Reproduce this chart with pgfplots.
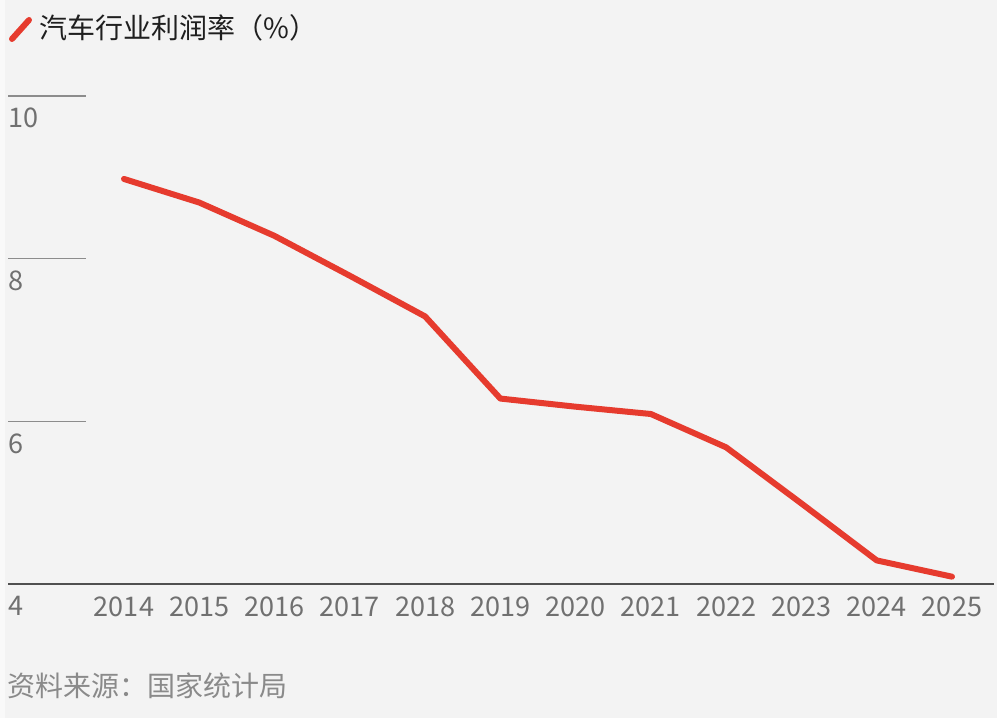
\documentclass[border=0pt]{standalone}
\usepackage{pgfplots}
\pgfplotsset{compat=1.18}
\usepackage{fontspec}
\setmainfont{Noto Sans CJK SC}
\definecolor{bg}{HTML}{F3F3F3}
\definecolor{linered}{HTML}{E63B2E}
\definecolor{ticktext}{HTML}{707070}
\definecolor{gridc}{HTML}{8C8C8C}
\definecolor{basec}{HTML}{505050}
\definecolor{srctext}{HTML}{8A8A8A}
\pgfplotstableread{
year value
2014 8.98
2015 8.69
2016 8.28
2017 7.79
2018 7.29
2019 6.28
2020 6.18
2021 6.09
2022 5.68
2023 4.99
2024 4.29
2025 4.09
}\profit
\begin{document}
\begin{tikzpicture}
\begin{scope}[x=0.75pt,y=0.75pt]
\fill[bg] (0,0) rectangle (997,718);
\fill[white!50!bg] (0,0) rectangle (5,718);
\draw[linered, line width=4.5pt, line cap=round] (12,679) -- (29,698);
\node[anchor=west, inner sep=0pt, text=black!88, font=\fontsize{21}{24}\selectfont] at (39,690) {汽车行业利润率（\%）};
\node[anchor=west, inner sep=0pt, text=srctext, font=\fontsize{21}{24}\selectfont] at (7,32) {资料来源：国家统计局};
\end{scope}
\begin{axis}[
  at={(6pt,100.5pt)}, anchor=south west,
  scale only axis, width=739.5pt, height=366pt,
  xmin=2012.459, xmax=2025.558, ymin=4, ymax=10,
  clip=false,
  axis line style={draw=none},
  major tick length=0pt,
  ytick=\empty,
  xtick={2014,2015,2016,2017,2018,2019,2020,2021,2022,2023,2024,2025},
  xticklabels={2014,2015,2016,2017,2018,2019,2020,2021,2022,2023,2024,2025},
  xticklabel style={anchor=north, inner sep=0pt, yshift=-9.5pt, text=ticktext, font=\fontsize{20.3}{24}\selectfont},
]
\draw[basec, line width=1pt] (rel axis cs:0,0) -- (rel axis cs:1,0);
\pgfplotsinvokeforeach{6,8,10}{
  \draw[gridc, line width=0.9pt] (axis cs:2012.459,#1) -- (axis cs:2013.495,#1);
}
\pgfplotsinvokeforeach{4,6,8,10}{
  \node[anchor=north west, inner sep=0pt, text=ticktext, font=\fontsize{20.3}{24}\selectfont, yshift=-9pt] at (axis cs:2012.459,#1) {#1};
}
\addplot[linered, line width=4.5pt, line join=round, line cap=round] table[x=year, y=value] {\profit};
\end{axis}
\end{tikzpicture}
\end{document}
